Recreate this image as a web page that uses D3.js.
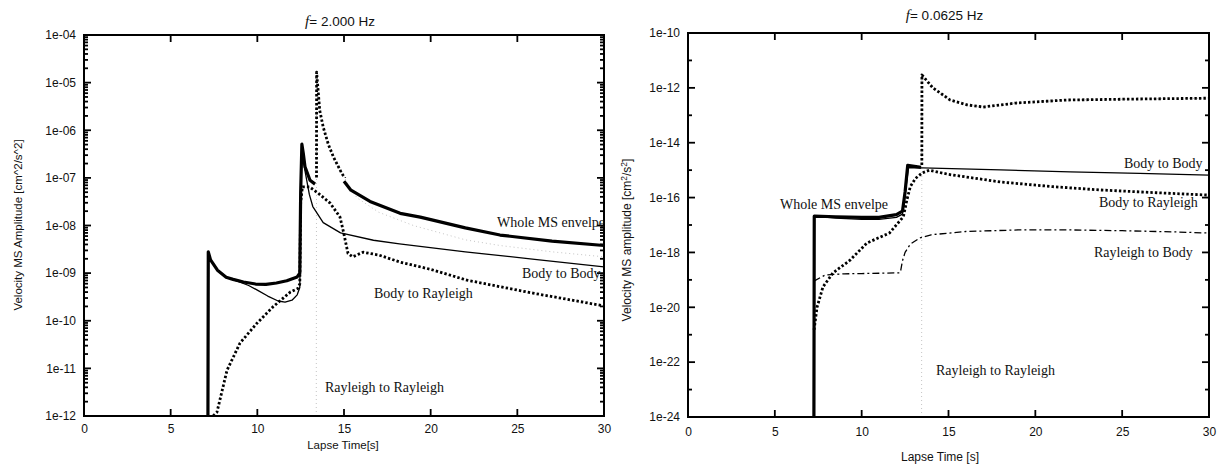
<!DOCTYPE html>
<html>
<head>
<meta charset="utf-8">
<script src="https://cdn.jsdelivr.net/npm/d3@7"></script>
<style>
  body { margin: 0; background: #fff; }
  svg { display: block; }
  .tick text { font-family: "Liberation Sans", Arial, sans-serif; font-size: 12px; fill: #111; }
  .domain { display: none; }
  .mark { stroke: #000; stroke-width: 1.8; }
</style>
</head>
<body>
<svg id="chart" width="1218" height="464"></svg>
<script>
// ---------- shared x axis ----------
const lapseTicks = [0, 5, 10, 15, 20, 25, 30];

// ---------- f = 2.000 Hz ----------
const hfFreq = "2.000 Hz";
const hfYTicks = [1e-4, 1e-5, 1e-6, 1e-7, 1e-8, 1e-9, 1e-10, 1e-11, 1e-12];
const hfYTickLabels = ["1e-04", "1e-05", "1e-06", "1e-07", "1e-08", "1e-09", "1e-10", "1e-11", "1e-12"];
const hfEnvelope = [
  [7.15, 1e-12], [7.17, 2.8e-9], [7.3, 1.9e-9], [7.7, 1.15e-9], [8.2, 8.2e-10], [8.6, 7.4e-10],
  [9.2, 6.5e-10], [9.9, 5.9e-10], [10.5, 5.8e-10], [11.1, 6.2e-10], [11.7, 6.9e-10], [12.3, 8.3e-10],
  [12.45, 1e-9], [12.5, 5e-8], [12.57, 5.1e-7], [12.65, 3.3e-7], [12.75, 1.7e-7], [13.04, 8.9e-8],
  [13.33, 7.4e-8], null,
  [15.0, 8.5e-8], [15.4, 5.5e-8], [16.5, 3.2e-8], [18.24, 1.8e-8], [19.4, 1.5e-8], [22, 8.9e-9],
  [24, 6.3e-9], [27, 4.7e-9], [30, 3.8e-9]
];
const hfBodyToBody = [
  [7.15, 1e-12], [7.17, 2.8e-9], [7.3, 1.9e-9], [7.7, 1.15e-9], [8.2, 8.2e-10], [8.6, 7.3e-10],
  [9.0, 6.5e-10], [9.5, 5.5e-10], [10, 4.4e-10], [10.6, 3.3e-10], [11.2, 2.6e-10], [11.6, 2.45e-10],
  [12.0, 2.7e-10], [12.3, 3.5e-10], [12.45, 5e-10], [12.5, 5e-8], [12.57, 5e-7], [12.65, 2.4e-7],
  [12.75, 1.4e-7], [13.0, 4.5e-8], [13.2, 2.5e-8], [13.8, 1.15e-8], [14.8, 7e-9], [16.7, 4.9e-9],
  [18.2, 4.1e-9], [22, 2.8e-9], [26, 1.95e-9], [30, 1.35e-9]
];
const hfBodyToRayleigh = [
  [7.45, 1e-12], [7.67, 1.2e-12], [8.25, 9.1e-12], [9.0, 3.4e-11], [9.98, 8.9e-11], [10.9, 1.95e-10],
  [11.9, 4e-10], [12.35, 4.8e-10], [12.45, 6e-10], [12.5, 3e-8], [12.6, 6.5e-8], [13.0, 6.5e-8],
  [13.5, 4.8e-8], [14.2, 2.95e-8], [14.77, 1.5e-8], [14.95, 7.9e-9], [15.23, 2.6e-9], [15.5, 2.2e-9],
  [16.1, 2.75e-9], [17, 2.4e-9], [18.24, 1.7e-9], [20, 1.2e-9], [22.1, 7.1e-10], [25.9, 3.8e-10],
  [30, 2.05e-10]
];
const hfRayleighToRayleigh = [
  [13.4, 1e-12], [13.42, 1.66e-5], [13.6, 2.6e-6], [13.8, 1.17e-6], [14.1, 5e-7], [14.4, 2.7e-7],
  [14.8, 1.4e-7], [15.2, 7.8e-8], [15.75, 3.8e-8], [17, 1.9e-8], [19, 1.0e-8], [22, 5e-9],
  [24, 3.8e-9], [27, 2.8e-9], [30, 2.2e-9]
];

// ---------- f = 0.0625 Hz ----------
const lfFreq = "0.0625 Hz";
const lfYTicks = [1e-10, 1e-12, 1e-14, 1e-16, 1e-18, 1e-20, 1e-22, 1e-24];
const lfYTickLabels = ["1e-10", "1e-12", "1e-14", "1e-16", "1e-18", "1e-20", "1e-22", "1e-24"];
const lfYMinorTicks = [1e-11, 1e-13, 1e-15, 1e-17, 1e-19, 1e-21, 1e-23];
const lfEnvelope = [
  [7.25, 1e-24], [7.27, 2.1e-17], [8.5, 2e-17], [10, 1.9e-17], [11, 1.9e-17], [12, 2.4e-17],
  [12.35, 3.2e-17], [12.5, 1.6e-16], [12.65, 1.5e-15], [13.42, 1.26e-15]
];
const lfBodyToBody = [
  [7.25, 1e-24], [7.27, 2.1e-17], [8.5, 1.8e-17], [10, 1.6e-17], [11, 1.6e-17], [12, 1.9e-17],
  [12.35, 2.5e-17], [12.5, 1.3e-16], [12.7, 1.25e-15], [13.5, 1.2e-15], [18, 1.02e-15],
  [22, 8.7e-16], [26, 7.6e-16], [30, 6.6e-16]
];
const lfBodyToRayleigh = [
  [7.26, 1.5e-21], [7.43, 1e-20], [7.77, 5.5e-20], [8.35, 1.8e-19], [9.33, 5.2e-19], [10.3, 2.2e-18],
  [11.6, 5.1e-18], [12.4, 2e-17], [12.6, 8e-17], [12.8, 2.5e-16], [13.1, 5e-16], [13.5, 8e-16],
  [13.9, 1e-15], [15, 7e-16], [18, 3.7e-16], [21, 2.5e-16], [23.7, 1.9e-16], [27, 1.5e-16],
  [30, 1.23e-16]
];
const lfRayleighToBody = [
  [7.25, 9e-20], [7.9, 1.5e-19], [9, 1.66e-19], [10, 1.7e-19], [11, 1.74e-19], [12.2, 1.8e-19],
  [12.25, 2.2e-19], [12.35, 5e-19], [12.5, 1e-18], [12.8, 2e-18], [13.36, 3.4e-18], [14, 4.4e-18],
  [16, 5.8e-18], [19, 6.6e-18], [22, 6.6e-18], [25, 6.2e-18], [28, 5.6e-18], [30, 5.1e-18]
];
const lfRayleighToRayleigh = [
  [13.45, 1e-24], [13.47, 2.95e-12], [14.1, 1e-12], [15.1, 3.6e-13], [16.06, 2.4e-13], [17, 2e-13],
  [18.9, 2.8e-13], [21.8, 3.6e-13], [25.6, 3.9e-13], [30, 4.2e-13]
];

// ---------- line styles ----------
const styles = {
  envelope: { width: 3.2, dash: null, color: "#000" },
  body:     { width: 1.3, dash: null, color: "#000" },
  dotted:   { width: 2.8, dash: "2.4,2.1", color: "#000" },
  faint:    { width: 1.0, dash: "1,3", color: "#c4c4c4" },
  dashdot:  { width: 1.3, dash: "7,3,2,3", color: "#000" }
};

const svg = d3.select("#chart");
const serif = "'Liberation Serif', 'Times New Roman', serif";
const sans = "'Liberation Sans', Arial, sans-serif";

function logMinors(lo, hi) {
  const out = [];
  for (let e = Math.round(Math.log10(lo)); e < Math.round(Math.log10(hi)); e++) {
    for (let k = 2; k <= 9; k++) out.push(k * Math.pow(10, e));
  }
  return out;
}

function drawPanel(p, idx) {
  const x = d3.scaleLinear().domain([0, 30]).range([p.left, p.right]);
  const y = d3.scaleLog().domain([p.yMin, p.yMax]).range([p.bottom, p.top]);
  const g = svg.append("g");

  const clipId = "plot-clip-" + idx;
  const defs = svg.append("defs");
  defs.append("clipPath").attr("id", clipId).append("rect")
    .attr("x", p.left).attr("y", p.top)
    .attr("width", p.right - p.left).attr("height", p.bottom - p.top);
  // region above the level where the Rayleigh-to-Rayleigh term dominates
  const rrClip = "rr-clip-" + idx;
  defs.append("clipPath").attr("id", rrClip).append("rect")
    .attr("x", p.left).attr("y", p.top)
    .attr("width", p.right - p.left).attr("height", y(p.rrLevel) - p.top);

  const line = d3.line()
    .defined(d => d != null)
    .x(d => x(d[0]))
    .y(d => y(Math.max(d[1], p.yMin)));

  const curves = g.append("g").attr("clip-path", `url(#${clipId})`);
  function path(data, st, clip) {
    const el = curves.append("path")
      .datum(data)
      .attr("d", line)
      .attr("fill", "none")
      .attr("stroke", st.color)
      .attr("stroke-width", st.width)
      .attr("stroke-linejoin", "round");
    if (st.dash) el.attr("stroke-dasharray", st.dash);
    if (clip) el.attr("clip-path", `url(#${clip})`);
    return el;
  }

  path(p.rr, styles.faint);
  if (p.rb) path(p.rb, styles.dashdot);
  path(p.br, styles.dotted);
  path(p.bb, styles.body);
  path(p.env, styles.envelope);
  path(p.rr, styles.dotted, rrClip);

  // tick labels through d3 axes (no tick lines)
  g.append("g").attr("transform", `translate(0,${p.bottom})`)
    .call(d3.axisBottom(x).tickValues(lapseTicks).tickFormat(d3.format("d"))
      .tickSize(0).tickPadding(p.xPad));
  g.append("g").attr("transform", `translate(${p.left},0)`)
    .call(d3.axisLeft(y).tickValues(p.yTicks).tickFormat((d, i) => p.yLabels[i])
      .tickSize(0).tickPadding(8));

  // inward tick marks on all four sides
  const tickIn = 7, minorIn = 4;
  const marks = g.append("g");
  lapseTicks.forEach(v => {
    marks.append("line").attr("class", "mark")
      .attr("x1", x(v)).attr("x2", x(v)).attr("y1", p.bottom).attr("y2", p.bottom - tickIn);
    marks.append("line").attr("class", "mark")
      .attr("x1", x(v)).attr("x2", x(v)).attr("y1", p.top).attr("y2", p.top + tickIn);
  });
  [[p.yTicks, tickIn], [p.yMinor, minorIn]].forEach(([vals, len]) => {
    vals.forEach(v => {
      marks.append("line").attr("class", "mark")
        .attr("x1", p.left).attr("x2", p.left + len).attr("y1", y(v)).attr("y2", y(v));
      marks.append("line").attr("class", "mark")
        .attr("x1", p.right).attr("x2", p.right - len).attr("y1", y(v)).attr("y2", y(v));
    });
  });

  // frame
  g.append("rect")
    .attr("x", p.left).attr("y", p.top)
    .attr("width", p.right - p.left).attr("height", p.bottom - p.top)
    .attr("fill", "none").attr("stroke", "#000").attr("stroke-width", 2);

  // title
  const t = g.append("text")
    .attr("x", (p.left + p.right) / 2 - 4).attr("y", p.titleY)
    .attr("text-anchor", "middle")
    .attr("font-family", sans).attr("font-size", 13.5).attr("fill", "#111");
  t.append("tspan").attr("font-family", serif).attr("font-style", "italic").attr("font-size", 15).text("f");
  t.append("tspan").text("= " + p.freq);

  // x title
  g.append("text")
    .attr("x", p.xTitleX).attr("y", p.xTitleY)
    .attr("text-anchor", "middle")
    .attr("font-family", sans).attr("font-size", p.titleSize).attr("fill", "#111")
    .text(p.xTitle);

  // y title
  const yt = g.append("text")
    .attr("transform", `translate(${p.yTitleX},${p.yTitleY}) rotate(-90)`)
    .attr("text-anchor", "middle")
    .attr("font-family", sans).attr("font-size", p.titleSize).attr("fill", "#111");
  p.yTitle.forEach(part => {
    const s = yt.append("tspan").text(part.text);
    if (part.sup) s.attr("font-size", p.titleSize * 0.7).attr("dy", -4);
    if (part.after) s.attr("dy", 4);
  });

  // curve labels
  p.labels.forEach(l => {
    g.append("text")
      .attr("x", l.x).attr("y", l.y)
      .attr("font-family", serif).attr("font-size", 14).attr("fill", "#111")
      .text(l.text);
  });
}

drawPanel({
  left: 84, right: 604, top: 35, bottom: 416,
  yMin: 1e-12, yMax: 1e-4,
  yTicks: hfYTicks, yLabels: hfYTickLabels, yMinor: logMinors(1e-12, 1e-4),
  xPad: 8,
  env: hfEnvelope, bb: hfBodyToBody, br: hfBodyToRayleigh, rr: hfRayleighToRayleigh, rb: null,
  rrLevel: 1e-7,
  freq: hfFreq, titleY: 26,
  xTitle: "Lapse Time[s]", xTitleX: 343, xTitleY: 449, titleSize: 11.5,
  yTitle: [{ text: "Velocity MS Amplitude [cm^2/s^2]" }], yTitleX: 22, yTitleY: 225,
  labels: [
    { text: "Whole MS envelpe", x: 497, y: 227 },
    { text: "Body to Body", x: 522, y: 278 },
    { text: "Body to Rayleigh", x: 374, y: 298 },
    { text: "Rayleigh to Rayleigh", x: 325, y: 392 }
  ]
}, 0);

drawPanel({
  left: 688, right: 1209, top: 33, bottom: 417,
  yMin: 1e-24, yMax: 1e-10,
  yTicks: lfYTicks, yLabels: lfYTickLabels, yMinor: lfYMinorTicks,
  xPad: 10,
  env: lfEnvelope, bb: lfBodyToBody, br: lfBodyToRayleigh, rr: lfRayleighToRayleigh, rb: lfRayleighToBody,
  rrLevel: 1.4e-15,
  freq: lfFreq, titleY: 20,
  xTitle: "Lapse Time [s]", xTitleX: 940, xTitleY: 461, titleSize: 12,
  yTitle: [
    { text: "Velocity MS amplitude [cm" }, { text: "2", sup: true },
    { text: "/s", after: true }, { text: "2", sup: true }, { text: "]", after: true }
  ],
  yTitleX: 631, yTitleY: 240,
  labels: [
    { text: "Whole MS envelpe", x: 780, y: 209 },
    { text: "Body to Body", x: 1124, y: 168 },
    { text: "Body to Rayleigh", x: 1099, y: 207 },
    { text: "Rayleigh to Body", x: 1094, y: 257 },
    { text: "Rayleigh to Rayleigh", x: 936, y: 375 }
  ]
}, 1);
</script>
</body>
</html>
